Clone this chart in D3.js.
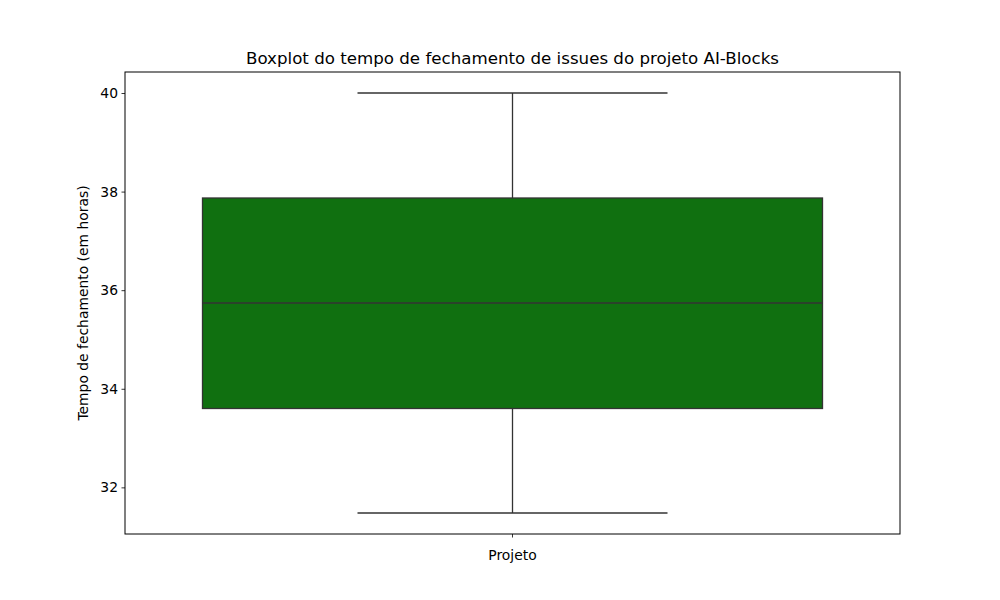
<!DOCTYPE html>
<html><head><meta charset="utf-8">
<script src="https://cdn.jsdelivr.net/npm/d3@7"></script>
<style>body{margin:0;background:#fff}svg{display:block}text{font-family:"DejaVu Sans",sans-serif}</style>
</head><body><svg id="c" width="1000" height="600"></svg>
<script>
const categories = ["Projeto"];
const whiskerLow = [31.48];
const q1 = [33.60];
const median = [35.74];
const q3 = [37.87];
const whiskerHigh = [40.0];
const yTicks = [32, 34, 36, 38, 40];
const title = "Boxplot do tempo de fechamento de issues do projeto AI-Blocks";
const yLabel = "Tempo de fechamento (em horas)";

const svg = d3.select("#c");
const L = 125, R = 900, T = 72, B = 534;
const lo = d3.min(whiskerLow), hi = d3.max(whiskerHigh), pad = (hi - lo) * 0.05;
const y = d3.scaleLinear().domain([lo - pad, hi + pad]).range([B, T]);
const x = d3.scaleBand().domain(categories).range([L, R]).paddingInner(0.2).paddingOuter(0.1);
const line = "#333333";

const g = svg.append("g");
categories.forEach((c, i) => {
  const x0 = x(c), w = x.bandwidth(), cx = x0 + w / 2;
  g.append("line").attr("x1", cx).attr("x2", cx).attr("y1", y(whiskerHigh[i])).attr("y2", y(q3[i])).attr("stroke", line).attr("stroke-width", 1.3);
  g.append("line").attr("x1", cx).attr("x2", cx).attr("y1", y(q1[i])).attr("y2", y(whiskerLow[i])).attr("stroke", line).attr("stroke-width", 1.3);
  g.append("line").attr("x1", cx - w / 4).attr("x2", cx + w / 4).attr("y1", y(whiskerHigh[i])).attr("y2", y(whiskerHigh[i])).attr("stroke", line).attr("stroke-width", 1.3);
  g.append("line").attr("x1", cx - w / 4).attr("x2", cx + w / 4).attr("y1", y(whiskerLow[i])).attr("y2", y(whiskerLow[i])).attr("stroke", line).attr("stroke-width", 1.3);
  g.append("rect").attr("x", x0).attr("width", w).attr("y", y(q3[i])).attr("height", y(q1[i]) - y(q3[i]))
    .attr("fill", "#107010").attr("stroke", line).attr("stroke-width", 1.3);
  g.append("line").attr("x1", x0).attr("x2", x0 + w).attr("y1", y(median[i])).attr("y2", y(median[i])).attr("stroke", line).attr("stroke-width", 1.3);
});

const ya = svg.append("g").attr("transform", `translate(${L},0)`)
  .call(d3.axisLeft(y).tickValues(yTicks).tickSize(3.5).tickPadding(3.5).tickFormat(d3.format("d")));
const xa = svg.append("g").attr("transform", `translate(0,${B})`)
  .call(d3.axisBottom(x).tickSize(3.5).tickPadding(13));
[ya, xa].forEach(a => {
  a.select(".domain").remove();
  a.selectAll("line").attr("stroke", "#000").attr("stroke-width", 0.8);
  a.selectAll("text").attr("fill", "#000").style("font-size", "13.89px").style("font-family", "DejaVu Sans");
});
svg.append("rect").attr("x", L).attr("y", T).attr("width", R - L).attr("height", B - T)
  .attr("fill", "none").attr("stroke", "#000").attr("stroke-width", 1);

svg.append("text").attr("x", (L + R) / 2).attr("y", 64).attr("text-anchor", "middle")
  .style("font-size", "16.67px").text(title);
svg.append("text").attr("transform", `translate(88,${(T + B) / 2}) rotate(-90)`).attr("text-anchor", "middle")
  .style("font-size", "13.89px").text(yLabel);
</script></body></html>
